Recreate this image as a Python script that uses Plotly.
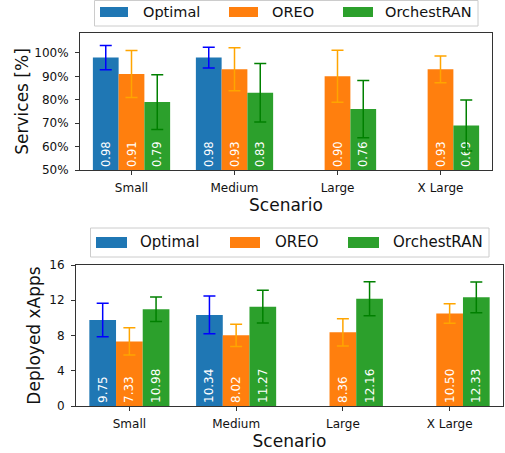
import plotly.graph_objects as go

# ---------------- data ----------------
scenarios = ["Small", "Medium", "Large", "X Large"]
methods = ["Optimal", "OREO", "OrchestRAN"]
bar_colors = ["#1f77b4", "#ff7f0e", "#2ca02c"]
err_colors = ["#0000ff", "#ffa500", "#008000"]

services_optimal = [0.98, 0.98, None, None]
services_oreo = [0.91, 0.93, 0.90, 0.93]
services_orch = [0.79, 0.83, 0.76, 0.69]
services_optimal_std = [0.052, 0.044, None, None]
services_oreo_std = [0.100, 0.092, 0.111, 0.057]
services_orch_std = [0.117, 0.125, 0.122, 0.109]

xapps_optimal = [9.75, 10.34, None, None]
xapps_oreo = [7.33, 8.02, 8.36, 10.50]
xapps_orch = [10.98, 11.27, 12.16, 12.33]
xapps_optimal_std = [1.90, 2.14, None, None]
xapps_oreo_std = [1.55, 1.27, 1.55, 1.11]
xapps_orch_std = [1.38, 1.86, 1.93, 1.74]

services_ticks = [0.5, 0.6, 0.7, 0.8, 0.9, 1.0]
services_floor = 0.5
xapps_ticks = [0, 4, 8, 12, 16]

# ---------------- figure ----------------
W, H = 505, 453
FONT = "DejaVu Sans"


def px_x(x):
    return x / W


def px_y(y):
    return 1 - y / H


def fmt(vals):
    return [None if v is None else f"{v:.2f}" for v in vals]


fig = go.Figure()

top_series = [
    (services_optimal, services_optimal_std),
    (services_oreo, services_oreo_std),
    (services_orch, services_orch_std),
]
bot_series = [
    (xapps_optimal, xapps_optimal_std),
    (xapps_oreo, xapps_oreo_std),
    (xapps_orch, xapps_orch_std),
]

# top panel: bars start at the visible axis floor so the in-bar labels stay visible
for i, (vals, std) in enumerate(top_series):
    fig.add_trace(go.Bar(
        x=scenarios,
        y=[None if v is None else v - services_floor for v in vals],
        base=services_floor,
        name=methods[i], text=fmt(vals), customdata=vals,
        hovertemplate="%{x}: %{customdata:.2f}<extra>" + methods[i] + "</extra>",
        marker=dict(color=bar_colors[i], line=dict(width=0)),
        error_y=dict(type="data", array=std, visible=True,
                     color=err_colors[i], thickness=1.5, width=6),
        textposition="inside", insidetextanchor="start", textangle=-90,
        insidetextfont=dict(color="white", size=11.5, family=FONT),
        showlegend=False, xaxis="x", yaxis="y",
    ))

for i, (vals, std) in enumerate(bot_series):
    fig.add_trace(go.Bar(
        x=scenarios, y=vals, name=methods[i], text=fmt(vals),
        marker=dict(color=bar_colors[i], line=dict(width=0)),
        error_y=dict(type="data", array=std, visible=True,
                     color=err_colors[i], thickness=1.5, width=6),
        textposition="inside", insidetextanchor="start", textangle=-90,
        insidetextfont=dict(color="white", size=12, family=FONT),
        showlegend=False, xaxis="x2", yaxis="y2",
    ))

axis_common = dict(
    showline=True, mirror=True, linecolor="#333333", linewidth=1,
    ticks="outside", ticklen=4, tickcolor="#333333", tickwidth=1,
    showgrid=False, zeroline=False, automargin=False,
    tickfont=dict(family=FONT, size=12, color="#111111"),
)

fig.update_layout(
    width=W, height=H, autosize=False,
    margin=dict(l=0, r=0, t=0, b=0, pad=0),
    paper_bgcolor="white", plot_bgcolor="white",
    font=dict(family=FONT, color="#111111"),
    barmode="group", bargap=0.25, bargroupgap=0,
    showlegend=False,
    xaxis=dict(domain=[px_x(80), px_x(492)], anchor="y",
               range=[-0.5, 3.5], ticklabelstandoff=3,
               title=dict(text="Scenario", font=dict(size=17, family=FONT), standoff=2),
               **axis_common),
    yaxis=dict(domain=[px_y(170), px_y(33)], anchor="x",
               range=[0.5, 1.085], tickvals=services_ticks,
               tickformat=".0%", ticklabelstandoff=4,
               title=dict(text="Services [%]", font=dict(size=17, family=FONT), standoff=1),
               **axis_common),
    xaxis2=dict(domain=[px_x(76), px_x(503)], anchor="y2",
                range=[-0.5, 3.5], ticklabelstandoff=3,
                title=dict(text="Scenario", font=dict(size=17, family=FONT), standoff=4),
                **axis_common),
    yaxis2=dict(domain=[px_y(406), px_y(265)], anchor="x2",
                range=[0, 16], tickvals=xapps_ticks, ticklabelstandoff=4,
                title=dict(text="Deployed xApps", font=dict(size=17, family=FONT), standoff=4),
                **axis_common),
)

# ---------------- legends (drawn as shapes + text) ----------------
legend_specs = [
    dict(box=(94.5, 0.5, 478, 26), sw_x=[(100, 128), (229, 258), (343, 373)],
         sw_y=(7, 17), txt_x=[142, 271, 384], txt_y=12, size=14.5),
    dict(box=(90.5, 228, 489, 257), sw_x=[(96, 127), (230, 260), (348, 379)],
         sw_y=(237, 248), txt_x=[139, 274, 392], txt_y=242.5, size=15),
]
for spec in legend_specs:
    bx0, by0, bx1, by1 = spec["box"]
    fig.add_shape(type="rect", xref="paper", yref="paper",
                  x0=px_x(bx0), x1=px_x(bx1), y0=px_y(by1), y1=px_y(by0),
                  line=dict(color="#cccccc", width=1), fillcolor="white", layer="above")
    for i in range(3):
        sx0, sx1 = spec["sw_x"][i]
        sy0, sy1 = spec["sw_y"]
        fig.add_shape(type="rect", xref="paper", yref="paper",
                      x0=px_x(sx0), x1=px_x(sx1), y0=px_y(sy1), y1=px_y(sy0),
                      line=dict(width=0), fillcolor=bar_colors[i], layer="above")
        fig.add_annotation(xref="paper", yref="paper", x=px_x(spec["txt_x"][i]),
                           y=px_y(spec["txt_y"]), text=methods[i], showarrow=False,
                           xanchor="left", yanchor="middle", borderpad=0,
                           font=dict(family=FONT, size=spec["size"], color="#111111"))

fig.write_html("out.html", config={"displayModeBar": False},
               post_script="document.body.style.margin='0px';")
